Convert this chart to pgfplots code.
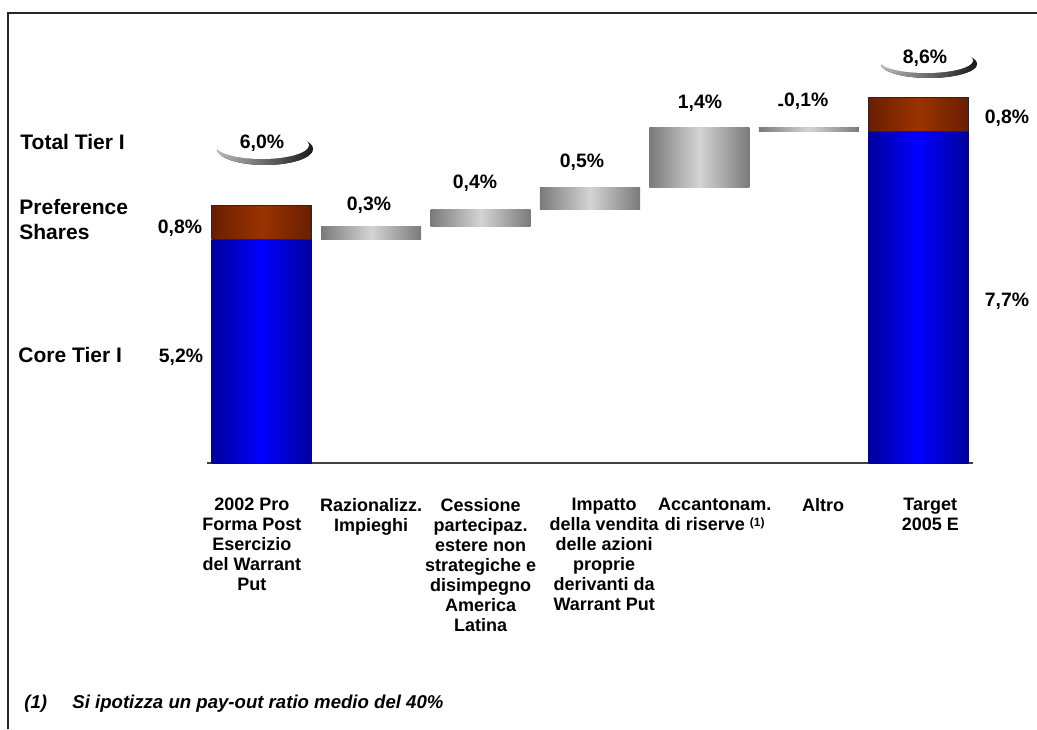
\documentclass[border=0pt]{standalone}
\usepackage{pgfplots}
\pgfplotsset{compat=1.18}
\usepackage{fontspec}
\setmainfont{Liberation Sans}
\definecolor{blueE}{HTML}{00009A}
\definecolor{blueC}{HTML}{0000FF}
\definecolor{redE}{HTML}{6A1E00}
\definecolor{redC}{HTML}{9A3300}
\definecolor{grayE}{HTML}{7A7A7A}
\definecolor{grayC}{HTML}{D4D4D4}
\tikzset{
  bluebar/.style={draw=none, left color=blueE, right color=blueE, middle color=blueC},
  redbar/.style={draw=black!85, line width=0.5pt, line join=miter, left color=redE, right color=redE, middle color=redC},
  graybar/.style={draw=none, left color=grayE, right color=grayE, middle color=grayC},
}
\begin{document}
\begin{tikzpicture}
\begin{scope}[x=0.5pt,y=-0.5pt,yshift=364.5pt]
\useasboundingbox (0,0) rectangle (1037,729);
\draw[line width=1pt, black!85] (8,729) -- (8,13) -- (1037,13);
\end{scope}
\begin{axis}[
  at={(103.5pt,133pt)}, anchor=south west,
  scale only axis, width=383pt, height=215pt,
  xmin=-0.5, xmax=6.5, ymin=0, ymax=10,
  axis y line=none, axis x line*=bottom,
  x axis line style={line width=1pt, black!75},
  xtick={-0.09,1,2,3.13,4.14,5.13,6.11}, major tick length=0pt,
  xticklabels={{2002 Pro\\Forma Post\\Esercizio\\del Warrant\\Put},
    {Razionalizz.\\Impieghi},
    {Cessione\\partecipaz.\\estere non\\strategiche e\\disimpegno\\America\\Latina},
    {Impatto\\della vendita\\delle azioni\\proprie\\derivanti da\\Warrant Put},
    {Accantonam.\\di riserve {\fontsize{6}{6}\selectfont\raisebox{0.6ex}{(1)}}},
    {Altro},
    {Target\\2005 E}},
  xticklabel style={font=\bfseries\fontsize{9}{10}\selectfont, align=center, anchor=north, yshift=-14pt},
  clip=false,
]
% bars: half width 0.457 around category centres 0..6
% 2002 Pro Forma: Core Tier I 5.2, Preference Shares 0.8
\addplot[bluebar] coordinates {(-0.457,0) (-0.457,5.2) (0.457,5.2) (0.457,0)};
\addplot[redbar]  coordinates {(-0.457,5.2) (-0.457,6.0) (0.457,6.0) (0.457,5.2) (-0.457,5.2)};
% Target 2005 E: Core Tier I 7.7, Preference Shares 0.8
\addplot[bluebar] coordinates {(5.543,0) (5.543,7.7) (6.457,7.7) (6.457,0)};
\addplot[redbar]  coordinates {(5.543,7.7) (5.543,8.5) (6.457,8.5) (6.457,7.7) (5.543,7.7)};
% steps: +0.3, +0.4, +0.5, +1.4, -0.1
\addplot[graybar] coordinates {(0.543,5.2) (0.543,5.5) (1.457,5.5) (1.457,5.2)};
\addplot[graybar] coordinates {(1.543,5.5) (1.543,5.9) (2.457,5.9) (2.457,5.5)};
\addplot[graybar] coordinates {(2.543,5.9) (2.543,6.4) (3.457,6.4) (3.457,5.9)};
\addplot[graybar] coordinates {(3.543,6.4) (3.543,7.8) (4.457,7.8) (4.457,6.4)};
\addplot[graybar] coordinates {(4.543,7.7) (4.543,7.8) (5.457,7.8) (5.457,7.7)};
\end{axis}
\begin{scope}[x=0.5pt,y=-0.5pt,yshift=364.5pt]
% swooshes
\fill[left color=gray!55, right color=black!90] (265,149) ellipse [x radius=48, y radius=16];
\fill[white] (262,145) ellipse [x radius=47, y radius=14];
\fill[left color=gray!55, right color=black!90] (929,64) ellipse [x radius=48, y radius=14];
\fill[white] (926,60.5) ellipse [x radius=47, y radius=12.5];
\begin{scope}[every node/.style={font=\bfseries\fontsize{10.5}{12.5}\selectfont, inner sep=0pt}]
\node[anchor=west] at (20,142) {Total Tier I};
\node[anchor=west, align=left] at (19,219) {Preference\\Shares};
\node[anchor=west] at (18,355) {Core Tier I};
\end{scope}
\begin{scope}[every node/.style={font=\bfseries\fontsize{9.7}{11}\selectfont, inner sep=0pt}]
\node at (180,228) {0,8\%};
\node at (181,357) {5,2\%};
\node at (369,205) {0,3\%};
\node at (475,183) {0,4\%};
\node at (582,162) {0,5\%};
\node at (700,103) {1,4\%};
\node at (803,102) {\raisebox{-0.35ex}{-}0,1\%};
\node at (1007,118) {0,8\%};
\node at (1007,301) {7,7\%};
\node at (262,143) {6,0\%};
\node at (925,58) {8,6\%};
\end{scope}
\begin{scope}[every node/.style={font=\bfseries\itshape\fontsize{9.3}{11}\selectfont, inner sep=0pt, anchor=west}]
\node at (24,704) {(1)};
\node at (72,704) {Si ipotizza un pay-out ratio medio del 40\%};
\end{scope}
\end{scope}
\end{tikzpicture}
\end{document}
